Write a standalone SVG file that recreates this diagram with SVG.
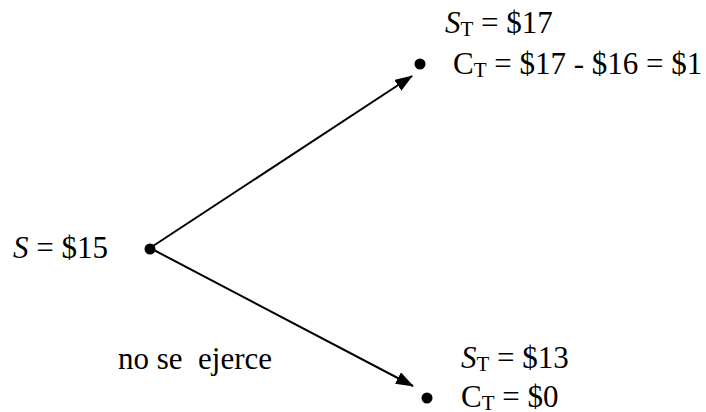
<svg xmlns="http://www.w3.org/2000/svg" width="706" height="412" viewBox="0 0 706 412">
<defs>
<style>
.edge{stroke:#000;stroke-width:2;fill:none}
.dot{fill:#000}
</style>
<marker id="ah" viewBox="0 0 18 13" refX="17" refY="6.5" markerWidth="18" markerHeight="13" markerUnits="userSpaceOnUse" orient="auto">
<path d="M0,0 L18,6.5 L0,13 Z" fill="#000"/>
</marker>
</defs>
<rect width="706" height="412" fill="#fff"/>
<g id="edges">
<line class="edge" x1="150" y1="248" x2="412" y2="76" marker-end="url(#ah)"/>
<line class="edge" x1="150" y1="248" x2="413" y2="386" marker-end="url(#ah)"/>
</g>
<g id="root">
<circle class="dot" cx="150" cy="249" r="5.5"/>
<text x="13" y="258" font-family="Liberation Serif" font-size="31"><tspan font-style="italic">S</tspan> = $15</text>
</g>
<g id="up">
<circle class="dot" cx="420" cy="64" r="5.5"/>
<text x="445" y="33" font-family="Liberation Serif" font-size="31"><tspan font-style="italic">S</tspan><tspan font-size="21" dy="3">T</tspan><tspan dy="-3"> = $17</tspan></text>
<text x="453" y="74" font-family="Liberation Serif" font-size="31">C<tspan font-size="21" dy="3">T</tspan><tspan dy="-3"> = $17 - $16 = $1</tspan></text>
</g>
<g id="down">
<circle class="dot" cx="427" cy="398" r="5.5"/>
<text x="461" y="368" font-family="Liberation Serif" font-size="31"><tspan font-style="italic">S</tspan><tspan font-size="21" dy="3">T</tspan><tspan dy="-3"> = $13</tspan></text>
<text x="461" y="407" font-family="Liberation Serif" font-size="31">C<tspan font-size="21" dy="3">T</tspan><tspan dy="-3"> = $0</tspan></text>
</g>
<g id="label">
<text x="118" y="369" font-family="Liberation Serif" font-size="31">no se&#160; ejerce</text>
</g>
</svg>
